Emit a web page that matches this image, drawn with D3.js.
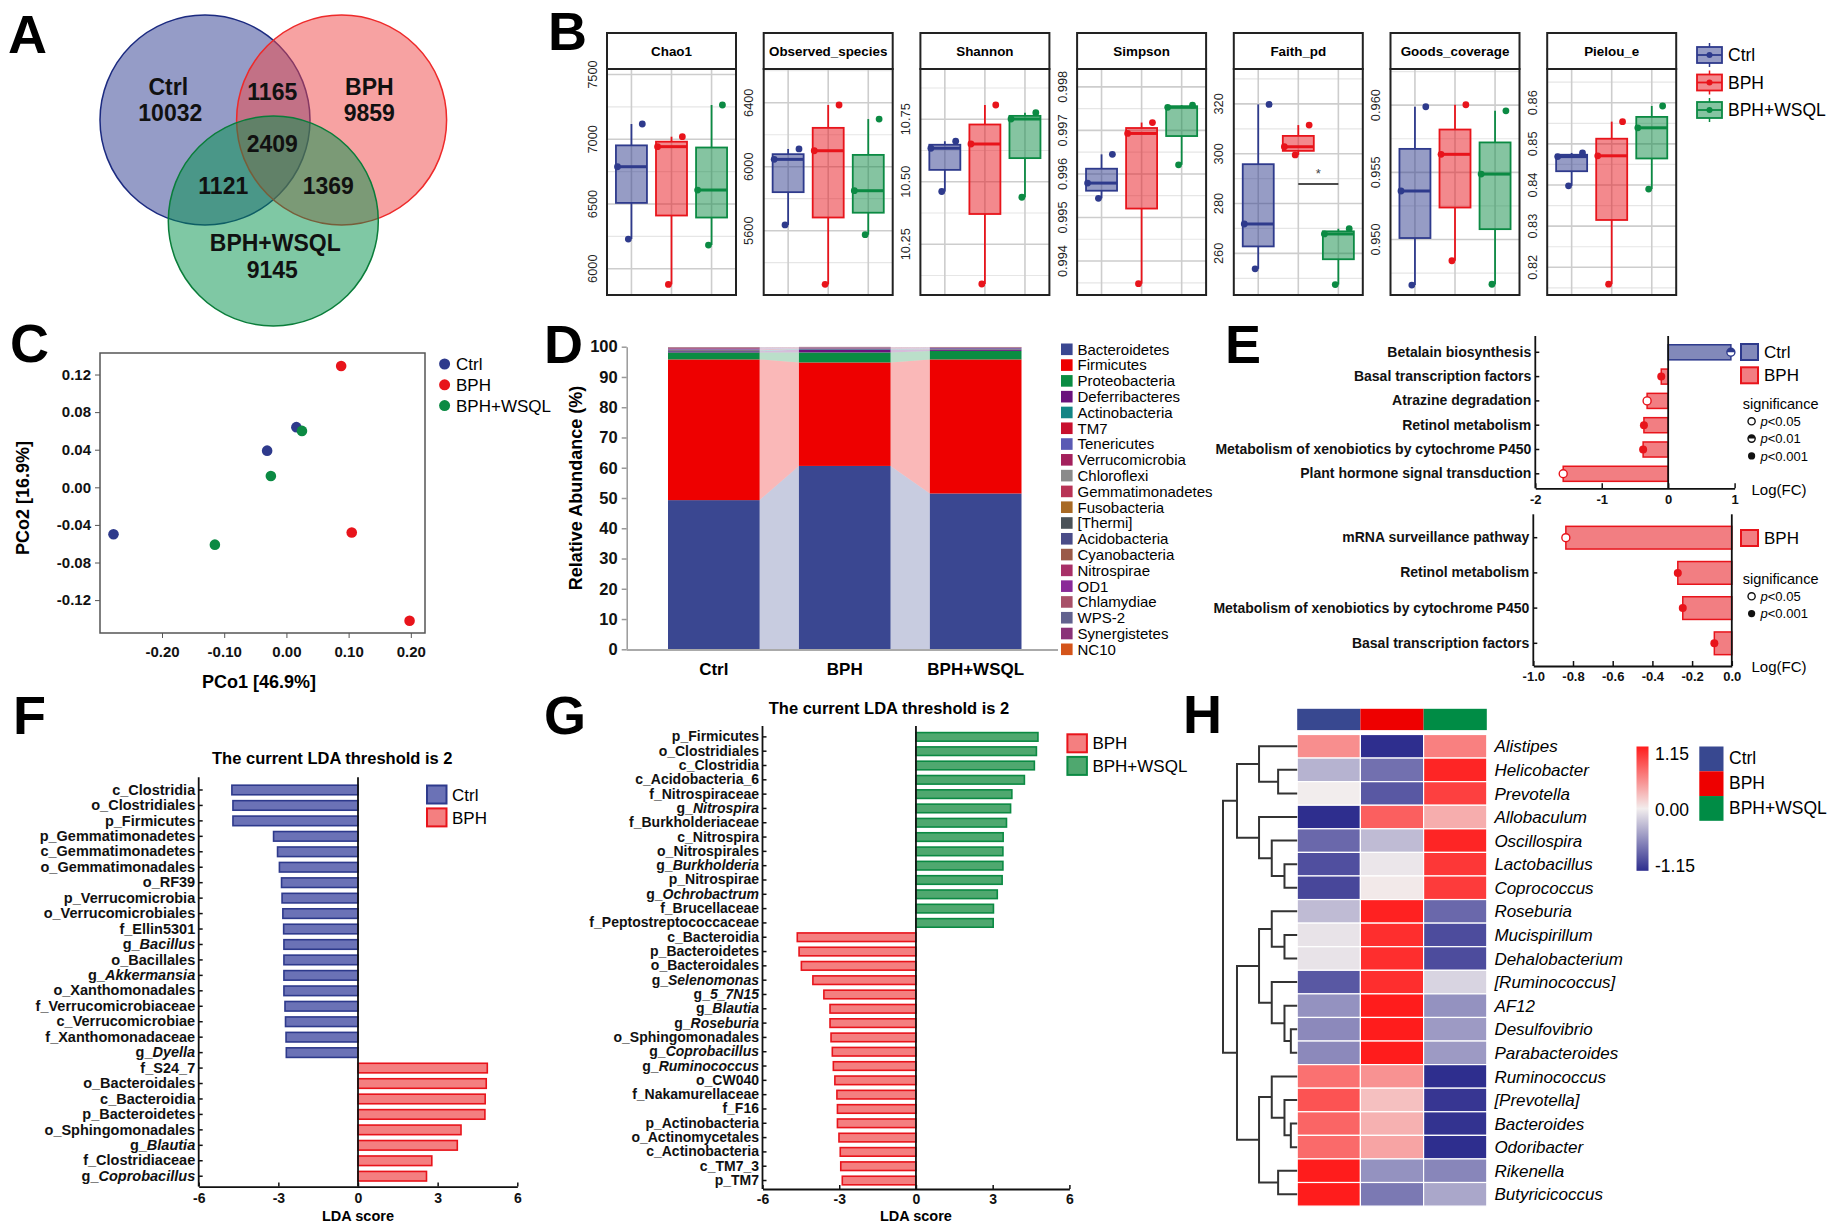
<!DOCTYPE html>
<html>
<head>
<meta charset="utf-8">
<script src="https://cdn.jsdelivr.net/npm/d3@7"></script>
<style>
  body { margin: 0; background: #fff; }
  svg { display: block; }
</style>
</head>
<body>
<div id="chart"></div>
<script>
// =====================================
// DATA
// =====================================

const groups = ["Ctrl", "BPH", "BPH+WSQL"];

// A - Venn (OTU counts)
const vennUnique = [10032, 9859, 9145];
const vennPairs = [1165, 1121, 1369];   // Ctrl&BPH, Ctrl&WSQL, BPH&WSQL
const vennAll = 2409;

// B - alpha diversity, three samples per group
const alphaMetrics = ["Chao1", "Observed_species", "Shannon", "Simpson", "Faith_pd", "Goods_coverage", "Pielou_e"];
const chao1 = [[7118, 6788, 6229], [7020, 6943, 5879], [7265, 6608, 6183]];
const observedSpecies = [[6111, 6046, 5636], [6386, 6100, 5265], [6298, 5850, 5575]];
const shannon = [[10.662, 10.634, 10.461], [10.807, 10.651, 10.091], [10.776, 10.751, 10.438]];
const simpson = [[0.99645, 0.99579, 0.99544], [0.99718, 0.99693, 0.99348], [0.99758, 0.99753, 0.99621]];
const faithPd = [[319.8, 271.8, 253.8], [311.5, 302.8, 299.5], [269.9, 267.8, 247.5]];
const goodsCoverage = [[0.95988, 0.95361, 0.94661], [0.96003, 0.95634, 0.94842], [0.95958, 0.95487, 0.94667]];
const pielouE = [[0.8478, 0.8469, 0.8398], [0.8554, 0.8471, 0.8159], [0.8592, 0.8539, 0.8390]];
const alphaValues = [chao1, observedSpecies, shannon, simpson, faithPd, goodsCoverage, pielouE];
const alphaDomains = [[5797, 7543], [5198, 6611], [10.047, 10.951], [0.99322, 0.99841], [243.3, 334.0], [0.94587, 0.96269], [0.81327, 0.86819]];
const alphaTicks = [
  [6000, 6500, 7000, 7500],
  [5600, 6000, 6400],
  [10.25, 10.50, 10.75],
  [0.994, 0.995, 0.996, 0.997, 0.998],
  [260, 280, 300, 320],
  [0.950, 0.955, 0.960],
  [0.82, 0.83, 0.84, 0.85, 0.86]
];
const alphaDecimals = [0, 0, 2, 3, 0, 3, 2];
const faithSignif = { from: "BPH", to: "BPH+WSQL", value: 287.8, label: "*" };

// C - PCoA
const pcoCtrl = [[-0.278, -0.050], [-0.031, 0.039], [0.016, 0.064]];
const pcoBph = [[0.088, 0.129], [0.105, -0.048], [0.198, -0.142]];
const pcoWsql = [[0.025, 0.060], [-0.025, 0.012], [-0.115, -0.061]];
const pcoXTicks = [-0.20, -0.10, 0.00, 0.10, 0.20];
const pcoYTicks = [-0.12, -0.08, -0.04, 0.00, 0.04, 0.08, 0.12];

// D - phylum relative abundance (%)
const phyla = ["Bacteroidetes", "Firmicutes", "Proteobacteria", "Deferribacteres", "Actinobacteria", "TM7",
  "Tenericutes", "Verrucomicrobia", "Chloroflexi", "Gemmatimonadetes", "Fusobacteria", "[Thermi]",
  "Acidobacteria", "Cyanobacteria", "Nitrospirae", "OD1", "Chlamydiae", "WPS-2", "Synergistetes", "NC10"];
const phylumCtrl = [49.3, 46.5, 2.3, 0.4, 0.3, 0.25, 0.3, 0.2, 0.05, 0.1, 0.02, 0.02, 0.05, 0.02, 0.02, 0.01, 0.01, 0.01, 0.01, 0.01];
const phylumBph = [60.6, 34.2, 3.3, 1.0, 0.2, 0.15, 0.2, 0.05, 0.03, 0.05, 0.02, 0.02, 0.03, 0.02, 0.02, 0.01, 0.01, 0.01, 0.01, 0.01];
const phylumWsql = [51.5, 44.3, 2.8, 0.3, 0.2, 0.1, 0.3, 0.1, 0.04, 0.08, 0.02, 0.02, 0.05, 0.02, 0.03, 0.01, 0.01, 0.01, 0.01, 0.01];
const abundanceTicks = d3.range(0, 101, 10);

// E - KEGG pathways, Log(FC)
const keggTopPaths = ["Betalain biosynthesis", "Basal transcription factors", "Atrazine degradation",
  "Retinol metabolism", "Metabolism of xenobiotics by cytochrome P450", "Plant hormone signal transduction"];
const keggTopFC = [0.944, -0.104, -0.317, -0.365, -0.377, -1.58];
const keggTopSig = ["p<0.01", "p<0.001", "p<0.05", "p<0.001", "p<0.001", "p<0.05"];
const keggBottomPaths = ["mRNA surveillance pathway", "Retinol metabolism",
  "Metabolism of xenobiotics by cytochrome P450", "Basal transcription factors"];
const keggBottomFC = [-0.836, -0.272, -0.247, -0.088];
const keggBottomSig = ["p<0.05", "p<0.001", "p<0.001", "p<0.001"];
const keggTopTicks = [-2, -1, 0, 1];
const keggBottomTicks = [-1.0, -0.8, -0.6, -0.4, -0.2, 0.0];

// F - LEfSe Ctrl vs BPH
const ldaFLabels = ["c_Clostridia", "o_Clostridiales", "p_Firmicutes", "p_Gemmatimonadetes", "c_Gemmatimonadetes",
  "o_Gemmatimonadales", "o_RF39", "p_Verrucomicrobia", "o_Verrucomicrobiales", "f_Ellin5301", "g_Bacillus",
  "o_Bacillales", "g_Akkermansia", "o_Xanthomonadales", "f_Verrucomicrobiaceae", "c_Verrucomicrobiae",
  "f_Xanthomonadaceae", "g_Dyella", "f_S24_7", "o_Bacteroidales", "c_Bacteroidia", "p_Bacteroidetes",
  "o_Sphingomonadales", "g_Blautia", "f_Clostridiaceae", "g_Coprobacillus"];
const ldaFScores = [-4.75, -4.71, -4.71, -3.18, -3.03, -2.96, -2.88, -2.86, -2.83, -2.80, -2.79, -2.79, -2.79,
  -2.79, -2.75, -2.73, -2.71, -2.70, 4.87, 4.83, 4.79, 4.78, 3.88, 3.74, 2.78, 2.58];

// G - LEfSe BPH vs BPH+WSQL
const ldaGLabels = ["p_Firmicutes", "o_Clostridiales", "c_Clostridia", "c_Acidobacteria_6", "f_Nitrospiraceae",
  "g_Nitrospira", "f_Burkholderiaceae", "c_Nitrospira", "o_Nitrospirales", "g_Burkholderia", "p_Nitrospirae",
  "g_Ochrobactrum", "f_Brucellaceae", "f_Peptostreptococcaceae", "c_Bacteroidia", "p_Bacteroidetes",
  "o_Bacteroidales", "g_Selenomonas", "g_5_7N15", "g_Blautia", "g_Roseburia", "o_Sphingomonadales",
  "g_Coprobacillus", "g_Ruminococcus", "o_CW040", "f_Nakamurellaceae", "f_F16", "p_Actinobacteria",
  "o_Actinomycetales", "c_Actinobacteria", "c_TM7_3", "p_TM7"];
const ldaGScores = [4.77, 4.71, 4.63, 4.24, 3.75, 3.70, 3.54, 3.41, 3.40, 3.40, 3.37, 3.18, 3.03, 3.02,
  -4.64, -4.57, -4.48, -4.03, -3.60, -3.36, -3.36, -3.32, -3.27, -3.23, -3.17, -3.09, -3.07, -3.07,
  -3.01, -2.96, -2.94, -2.88];
const ldaTicks = [-6, -3, 0, 3, 6];

// H - genus heatmap (row z-scores)
const genera = ["Alistipes", "Helicobacter", "Prevotella", "Allobaculum", "Oscillospira", "Lactobacillus",
  "Coprococcus", "Roseburia", "Mucispirillum", "Dehalobacterium", "[Ruminococcus]", "AF12", "Desulfovibrio",
  "Parabacteroides", "Ruminococcus", "[Prevotella]", "Bacteroides", "Odoribacter", "Rikenella", "Butyricicoccus"];
const heatCtrl = [0.52, -0.35, 0.0, -1.15, -0.8, -0.95, -1.0, -0.3, -0.06, -0.06, -0.9, -0.55, -0.6, -0.6, 0.68, 0.85, 0.75, 0.72, 1.15, 1.15];
const heatBph = [-1.15, -0.75, -0.9, 0.78, -0.3, -0.04, 0.02, 1.12, 1.05, 1.05, 1.05, 1.15, 1.15, 1.15, 0.5, 0.25, 0.33, 0.4, -0.55, -0.7];
const heatWsql = [0.6, 1.1, 0.95, 0.35, 1.1, 1.0, 0.98, -0.8, -0.97, -0.97, -0.15, -0.55, -0.5, -0.5, -1.15, -1.1, -1.12, -1.15, -0.62, -0.42];
const heatRange = [-1.15, 0, 1.15];
// row dendrogram, merge heights in arbitrary distance units
const genusTree = { h: 175, children: [
  { h: 142, children: [
    { h: 90, children: [{ leaf: "Alistipes" }, { h: 45, children: [{ leaf: "Helicobacter" }, { leaf: "Prevotella" }] }] },
    { h: 90, children: [{ leaf: "Allobaculum" }, { h: 60, children: [{ leaf: "Oscillospira" },
      { h: 30, children: [{ leaf: "Lactobacillus" }, { leaf: "Coprococcus" }] }] }] }
  ] },
  { h: 142, children: [
    { h: 90, children: [
      { h: 60, children: [{ leaf: "Roseburia" }, { h: 30, children: [{ leaf: "Mucispirillum" }, { leaf: "Dehalobacterium" }] }] },
      { h: 60, children: [{ leaf: "[Ruminococcus]" }, { h: 30, children: [{ leaf: "AF12" },
        { h: 15, children: [{ leaf: "Desulfovibrio" }, { leaf: "Parabacteroides" }] }] }] }
    ] },
    { h: 90, children: [
      { h: 60, children: [{ leaf: "Ruminococcus" }, { h: 30, children: [{ leaf: "[Prevotella]" },
        { h: 15, children: [{ leaf: "Bacteroides" }, { leaf: "Odoribacter" }] }] }] },
      { h: 45, children: [{ leaf: "Rikenella" }, { leaf: "Butyricicoccus" }] }
    ] }
  ] }
] };

// =====================================
// STYLE
// =====================================

const W = 1835, H = 1227;
const FONT = 'Arial, "Liberation Sans", Helvetica, sans-serif';
const groupColor = { "Ctrl": "#2e3a8c", "BPH": "#e8141b", "BPH+WSQL": "#0b8a43" };
const ldaFill = { "Ctrl": "#6b72b6", "BPH": "#f47f80", "BPH+WSQL": "#4fa86f" };
const barColor = { "Ctrl": "#384890", "BPH": "#ee0000", "BPH+WSQL": "#008c45" };
const phylumColors = ["#3a4791", "#ee0000", "#0a8c42", "#6a127c", "#138585", "#c8102e", "#5a5ab4", "#a3205c",
  "#8a8a8a", "#b83355", "#a86a25", "#4a5258", "#4a4c88", "#9a5a48", "#a83068", "#8a2a98", "#a85068",
  "#62628f", "#8a3278", "#d4541a"];

const svg = d3.select("#chart")
  .append("svg")
  .attr("width", W)
  .attr("height", H)
  .attr("font-family", FONT);

svg.append("rect").attr("width", W).attr("height", H).attr("fill", "#fff");

// panel letters
[["A", 8, 53], ["B", 548, 50], ["C", 10, 362], ["D", 544, 363],
 ["E", 1225, 363], ["F", 13, 734], ["G", 544, 734], ["H", 1183, 733]].forEach(([t, x, y]) => {
  svg.append("text").attr("x", x).attr("y", y)
    .attr("font-size", 54).attr("font-weight", "bold").text(t);
});

function taxonLabel(sel, name) {
  const m = name.match(/^g_(.+)$/);
  sel.text(null);
  if (m) {
    sel.append("tspan").text("g_");
    sel.append("tspan").attr("font-style", "italic").text(m[1]);
  } else {
    sel.text(name);
  }
}

// =====================================
// A - VENN
// =====================================

const venn = svg.append("g");
const vr = 105, vcx = 273.3, vcy = 120, vdx = 68.3, vdy = 101;
const vennCenters = [[vcx - vdx, vcy], [vcx + vdx, vcy], [vcx, vcy + vdy]];
const vennFill = ["#2b3990", "#f04545", "#00924a"];
const vennStroke = ["#1b2a80", "#ee2a2a", "#0a7d3a"];

venn.selectAll("circle")
  .data(groups)
  .join("circle")
  .attr("cx", (d, i) => vennCenters[i][0])
  .attr("cy", (d, i) => vennCenters[i][1])
  .attr("r", vr)
  .attr("fill", (d, i) => vennFill[i])
  .attr("fill-opacity", 0.5)
  .attr("stroke", (d, i) => vennStroke[i])
  .attr("stroke-width", 1.5);

const vennText = [
  [groups[0], vcx - 105, vcy - 33], [vennUnique[0], vcx - 103, vcy - 7],
  [groups[1], vcx + 96, vcy - 33], [vennUnique[1], vcx + 96, vcy - 7],
  [groups[2], vcx + 2, vcy + 123], [vennUnique[2], vcx - 1, vcy + 150],
  [vennPairs[0], vcx - 1, vcy - 28], [vennAll, vcx - 1, vcy + 24],
  [vennPairs[1], vcx - 50, vcy + 66], [vennPairs[2], vcx + 55, vcy + 66]
];
venn.selectAll("text")
  .data(vennText)
  .join("text")
  .attr("x", d => d[1])
  .attr("y", d => d[2])
  .attr("dy", "0.36em")
  .attr("text-anchor", "middle")
  .attr("font-size", 23)
  .attr("font-weight", "bold")
  .attr("fill", "#111")
  .text(d => d[0]);

// =====================================
// B - ALPHA DIVERSITY BOXPLOTS
// =====================================

const bStripTop = 33, bPlotTop = 69, bPlotBot = 295;
const bLeft = 607, bStep = 156.7, bWidth = 129, boxW = 31;
const jitter = [0.35, -0.45, -0.1];

alphaMetrics.forEach((metric, i) => {
  const g = svg.append("g").attr("transform", `translate(${bLeft + i * bStep},0)`);
  const dom = alphaDomains[i];
  const x = d3.scalePoint().domain(groups).range([0, bWidth]).padding(0.61);
  const y = d3.scaleLinear().domain(dom).range([bPlotBot, bPlotTop]);
  const major = alphaTicks[i];
  const half = (major[1] - major[0]) / 2;

  // grid
  const k = Math.floor((major[0] - dom[0]) / half + 1e-9);
  const grid = [];
  for (let j = -k; ; j++) {
    const v = major[0] + j * half;
    if (v > dom[1]) break;
    grid.push({ v, major: (j % 2 === 0) });
  }
  g.selectAll(".grid")
    .data(grid)
    .join("line")
    .attr("x1", 0).attr("x2", bWidth)
    .attr("y1", d => y(d.v)).attr("y2", d => y(d.v))
    .attr("stroke", d => d.major ? "#cdcdcd" : "#e6e6e6")
    .attr("stroke-width", d => d.major ? 1.6 : 1.2);
  g.selectAll(".vgrid")
    .data(groups)
    .join("line")
    .attr("x1", d => x(d)).attr("x2", d => x(d))
    .attr("y1", bPlotTop).attr("y2", bPlotBot)
    .attr("stroke", "#cdcdcd")
    .attr("stroke-width", 1.6);

  // boxes
  groups.forEach((gr, j) => {
    const vals = alphaValues[i][j].slice().sort(d3.ascending);
    const q1 = d3.quantile(vals, 0.25), med = d3.quantile(vals, 0.5), q3 = d3.quantile(vals, 0.75);
    const cx = x(gr), col = groupColor[gr];
    g.append("line").attr("x1", cx).attr("x2", cx).attr("y1", y(vals[0])).attr("y2", y(q1))
      .attr("stroke", col).attr("stroke-width", 1.8);
    g.append("line").attr("x1", cx).attr("x2", cx).attr("y1", y(q3)).attr("y2", y(vals[vals.length - 1]))
      .attr("stroke", col).attr("stroke-width", 1.8);
    g.append("rect")
      .attr("x", cx - boxW / 2).attr("width", boxW)
      .attr("y", y(q3)).attr("height", y(q1) - y(q3))
      .attr("fill", col).attr("fill-opacity", 0.5)
      .attr("stroke", col).attr("stroke-width", 1.8);
    g.append("line").attr("x1", cx - boxW / 2).attr("x2", cx + boxW / 2)
      .attr("y1", y(med)).attr("y2", y(med))
      .attr("stroke", col).attr("stroke-width", 3);
    g.selectAll(null)
      .data(alphaValues[i][j])
      .join("circle")
      .attr("cx", (d, n) => cx + jitter[n] * boxW)
      .attr("cy", d => y(d))
      .attr("r", 3.4)
      .attr("fill", col);
  });

  // significance bracket
  if (metric === "Faith_pd") {
    g.append("line")
      .attr("x1", x(faithSignif.from)).attr("x2", x(faithSignif.to))
      .attr("y1", y(faithSignif.value)).attr("y2", y(faithSignif.value))
      .attr("stroke", "#111").attr("stroke-width", 1.5);
    g.append("text")
      .attr("x", (x(faithSignif.from) + x(faithSignif.to)) / 2)
      .attr("y", y(faithSignif.value) - 6)
      .attr("text-anchor", "middle")
      .attr("font-size", 13).attr("fill", "#444")
      .text(faithSignif.label);
  }

  // frame + strip
  g.append("rect").attr("x", 0).attr("y", bPlotTop).attr("width", bWidth).attr("height", bPlotBot - bPlotTop)
    .attr("fill", "none").attr("stroke", "#222").attr("stroke-width", 2);
  g.append("rect").attr("x", 0).attr("y", bStripTop).attr("width", bWidth).attr("height", bPlotTop - bStripTop)
    .attr("fill", "#fff").attr("stroke", "#222").attr("stroke-width", 2);
  g.append("text")
    .attr("x", bWidth / 2).attr("y", (bStripTop + bPlotTop) / 2).attr("dy", "0.36em")
    .attr("text-anchor", "middle").attr("font-size", 13.4).attr("font-weight", "bold")
    .text(metric);

  // y tick labels (rotated)
  g.selectAll(".ytick")
    .data(major)
    .join("text")
    .attr("transform", d => `translate(-15,${y(d)}) rotate(-90)`)
    .attr("dy", "0.36em")
    .attr("text-anchor", "middle")
    .attr("font-size", 12.8)
    .attr("fill", "#222")
    .text(d => d.toFixed(alphaDecimals[i]));
});

// B legend
const bLeg = svg.append("g").attr("transform", "translate(1697,0)");
groups.forEach((gr, j) => {
  const cy = 55 + j * 27.5, col = groupColor[gr];
  bLeg.append("line").attr("x1", 12.5).attr("x2", 12.5).attr("y1", cy - 12).attr("y2", cy + 12)
    .attr("stroke", col).attr("stroke-width", 1.5);
  bLeg.append("rect").attr("x", 0).attr("y", cy - 8).attr("width", 25).attr("height", 16)
    .attr("fill", "#fff");
  bLeg.append("rect").attr("x", 0).attr("y", cy - 8).attr("width", 25).attr("height", 16)
    .attr("fill", col).attr("fill-opacity", 0.5).attr("stroke", col).attr("stroke-width", 1.8);
  bLeg.append("line").attr("x1", 0).attr("x2", 25).attr("y1", cy).attr("y2", cy)
    .attr("stroke", col).attr("stroke-width", 1.8);
  bLeg.append("circle").attr("cx", 12.5).attr("cy", cy).attr("r", 3).attr("fill", col);
  bLeg.append("text").attr("x", 31).attr("y", cy).attr("dy", "0.36em")
    .attr("font-size", 17.5).text(gr);
});

// =====================================
// C - PCoA
// =====================================

const cG = svg.append("g");
const cx = d3.scaleLinear().domain([-0.2997, 0.2228]).range([100, 425]);
const cy = d3.scaleLinear().domain([-0.155, 0.1429]).range([633, 353]);

cG.append("g")
  .attr("transform", "translate(0,633)")
  .call(d3.axisBottom(cx).tickValues(pcoXTicks).tickFormat(d => d.toFixed(2)).tickSize(5).tickPadding(8))
  .call(a => a.select(".domain").remove())
  .call(a => a.selectAll("line").attr("stroke", "#555"))
  .call(a => a.selectAll("text").attr("font-family", FONT).attr("font-size", 15).attr("font-weight", "bold").attr("fill", "#111"));

cG.append("g")
  .attr("transform", "translate(100,0)")
  .call(d3.axisLeft(cy).tickValues(pcoYTicks).tickFormat(d => d.toFixed(2)).tickSize(5).tickPadding(4))
  .call(a => a.select(".domain").remove())
  .call(a => a.selectAll("line").attr("stroke", "#555"))
  .call(a => a.selectAll("text").attr("font-family", FONT).attr("font-size", 15).attr("font-weight", "bold").attr("fill", "#111"));

cG.append("rect").attr("x", 100).attr("y", 353).attr("width", 325).attr("height", 280)
  .attr("fill", "none").attr("stroke", "#555").attr("stroke-width", 1.5);

[pcoCtrl, pcoBph, pcoWsql].forEach((pts, j) => {
  cG.selectAll(null)
    .data(pts)
    .join("circle")
    .attr("cx", d => cx(d[0]))
    .attr("cy", d => cy(d[1]))
    .attr("r", 5.3)
    .attr("fill", groupColor[groups[j]]);
});

cG.append("text").attr("x", 259).attr("y", 682).attr("dy", "0.36em").attr("text-anchor", "middle")
  .attr("font-size", 18).attr("font-weight", "bold").text("PCo1 [46.9%]");
cG.append("text").attr("transform", "translate(23,498) rotate(-90)").attr("dy", "0.36em")
  .attr("text-anchor", "middle").attr("font-size", 18).attr("font-weight", "bold").text("PCo2 [16.9%]");

groups.forEach((gr, j) => {
  const ly = 364 + j * 20.8;
  cG.append("circle").attr("cx", 444.6).attr("cy", ly).attr("r", 5.5).attr("fill", groupColor[gr]);
  cG.append("text").attr("x", 456).attr("y", ly).attr("dy", "0.36em").attr("font-size", 17).text(gr);
});

// =====================================
// D - STACKED PHYLUM BARS
// =====================================

const dG = svg.append("g");
const phylumTable = groups.map((gr, j) => {
  const row = { group: gr };
  const vals = [phylumCtrl, phylumBph, phylumWsql][j];
  phyla.forEach((p, k) => { row[p] = vals[k]; });
  return row;
});
const layers = d3.stack().keys(phyla)(phylumTable);

const dx = d3.scaleBand().domain(groups).range([668, 1021.5]).paddingInner(0.3);
const dy = d3.scaleLinear().domain([0, 100]).range([649.3, 346.7]);
const dColor = d3.scaleOrdinal().domain(phyla).range(phylumColors);

// flows between bars
layers.forEach(layer => {
  for (let i = 0; i < groups.length - 1; i++) {
    const a = layer[i], b = layer[i + 1];
    const xa = dx(groups[i]) + dx.bandwidth(), xb = dx(groups[i + 1]);
    dG.append("path")
      .attr("d", `M${xa},${dy(a[1])}L${xb},${dy(b[1])}L${xb},${dy(b[0])}L${xa},${dy(a[0])}Z`)
      .attr("fill", dColor(layer.key))
      .attr("fill-opacity", 0.28);
  }
});

dG.selectAll(".layer")
  .data(layers)
  .join("g")
  .attr("fill", d => dColor(d.key))
  .selectAll("rect")
  .data(d => d)
  .join("rect")
  .attr("x", d => dx(d.data.group))
  .attr("width", dx.bandwidth())
  .attr("y", d => dy(d[1]))
  .attr("height", d => dy(d[0]) - dy(d[1]));

dG.append("g")
  .attr("transform", "translate(626.7,0)")
  .call(d3.axisLeft(dy).tickValues(abundanceTicks).tickSize(5).tickPadding(4).tickSizeOuter(0))
  .call(a => a.select(".domain").attr("stroke", "#999").attr("stroke-width", 1.5))
  .call(a => a.selectAll("line").attr("stroke", "#999").attr("stroke-width", 1.5))
  .call(a => a.selectAll("text").attr("font-family", FONT).attr("font-size", 16.5).attr("font-weight", "bold").attr("fill", "#111"));

dG.append("line").attr("x1", 626.7).attr("x2", 1058).attr("y1", 650).attr("y2", 650)
  .attr("stroke", "#aaa").attr("stroke-width", 2);

dG.selectAll(".xlab")
  .data(groups)
  .join("text")
  .attr("x", d => dx(d) + dx.bandwidth() / 2)
  .attr("y", 669).attr("dy", "0.36em")
  .attr("text-anchor", "middle")
  .attr("font-size", 17).attr("font-weight", "bold")
  .text(d => d);

dG.append("text").attr("transform", "translate(576,488) rotate(-90)").attr("dy", "0.36em")
  .attr("text-anchor", "middle").attr("font-size", 18).attr("font-weight", "bold")
  .text("Relative Abundance (%)");

const dLeg = dG.append("g").attr("transform", "translate(1061,0)");
phyla.forEach((p, k) => {
  const ly = 349.3 + k * 15.79;
  dLeg.append("rect").attr("x", 0).attr("y", ly - 5.8).attr("width", 11.6).attr("height", 11.6).attr("fill", dColor(p));
  dLeg.append("text").attr("x", 16.5).attr("y", ly).attr("dy", "0.36em").attr("font-size", 15).text(p);
});

// =====================================
// E - KEGG LOG(FC)
// =====================================

function sigMarker(g, x, y, r, sig, col) {
  if (sig === "p<0.001") {
    g.append("circle").attr("cx", x).attr("cy", y).attr("r", r).attr("fill", col);
  } else {
    g.append("circle").attr("cx", x).attr("cy", y).attr("r", r).attr("fill", "#fff")
      .attr("stroke", col).attr("stroke-width", 1.4);
    if (sig === "p<0.01") {
      g.append("path").attr("d", `M${x - r},${y}A${r},${r} 0 0 1 ${x + r},${y}Z`).attr("fill", col);
    }
  }
}

function drawKegg(cfg) {
  const g = svg.append("g");
  const x = d3.scaleLinear().domain(cfg.domain).range(cfg.xRange);
  const y = d3.scaleBand().domain(cfg.paths).range(cfg.yRange).paddingInner(cfg.padIn).paddingOuter(cfg.padOut);
  const barGroup = v => v > 0 ? "Ctrl" : "BPH";

  g.selectAll(".bar")
    .data(cfg.fc)
    .join("rect")
    .attr("x", d => x(Math.min(0, d)))
    .attr("width", d => Math.abs(x(d) - x(0)))
    .attr("y", (d, i) => y(cfg.paths[i]))
    .attr("height", y.bandwidth())
    .attr("fill", d => groupColor[barGroup(d)])
    .attr("fill-opacity", d => d > 0 ? 0.6 : 0.55)
    .attr("stroke", d => groupColor[barGroup(d)])
    .attr("stroke-width", 1.5);

  cfg.fc.forEach((v, i) => {
    sigMarker(g, x(v), y(cfg.paths[i]) + y.bandwidth() / 2, 4, cfg.sig[i], groupColor[barGroup(v)]);
  });

  // zero line and left axis line
  g.append("line").attr("x1", x(0)).attr("x2", x(0)).attr("y1", cfg.top).attr("y2", cfg.bottom)
    .attr("stroke", "#111").attr("stroke-width", 1.8);
  g.append("line").attr("x1", cfg.xRange[0]).attr("x2", cfg.xRange[0]).attr("y1", cfg.top).attr("y2", cfg.bottom)
    .attr("stroke", "#111").attr("stroke-width", 1.8);

  g.append("g")
    .attr("transform", `translate(${cfg.xRange[0]},0)`)
    .call(d3.axisLeft(y).tickSizeInner(-4).tickSizeOuter(0).tickPadding(4))
    .call(a => a.select(".domain").remove())
    .call(a => a.selectAll("line").attr("stroke", "#111").attr("stroke-width", 1.5))
    .call(a => a.selectAll("text").attr("font-family", FONT).attr("font-size", 14).attr("font-weight", "bold").attr("fill", "#111"));

  g.append("g")
    .attr("transform", `translate(0,${cfg.bottom})`)
    .call(d3.axisBottom(x).tickValues(cfg.ticks).tickFormat(cfg.format).tickSizeInner(-5).tickSizeOuter(0).tickPadding(6))
    .call(a => a.select(".domain").attr("stroke", "#111").attr("stroke-width", 1.8))
    .call(a => a.selectAll("line").attr("stroke", "#111").attr("stroke-width", 1.5))
    .call(a => a.selectAll("text").attr("font-family", FONT).attr("font-size", 13).attr("font-weight", "bold").attr("fill", "#111"));

  g.append("text").attr("x", 1779).attr("y", cfg.bottom + 1).attr("dy", "0.36em").attr("text-anchor", "middle")
    .attr("font-size", 15).text("Log(FC)");

  // legend
  cfg.legend.forEach((gr, j) => {
    const ly = cfg.legendY + j * 23.3;
    g.append("rect").attr("x", 1741).attr("y", ly - 8).attr("width", 17).attr("height", 16)
      .attr("fill", groupColor[gr]).attr("fill-opacity", gr === "Ctrl" ? 0.6 : 0.55)
      .attr("stroke", groupColor[gr]).attr("stroke-width", 2);
    g.append("text").attr("x", 1764).attr("y", ly).attr("dy", "0.36em").attr("font-size", 17).text(gr);
  });
  g.append("text").attr("x", 1742.7).attr("y", cfg.sigY).attr("dy", "0.36em").attr("font-size", 14.5).text("significance");
  cfg.sigLevels.forEach((s, j) => {
    const ly = cfg.sigY + 18 + j * 17.3;
    sigMarker(g, 1751.6, ly, 3.6, s, "#111");
    const t = g.append("text").attr("x", 1760.5).attr("y", ly).attr("dy", "0.36em").attr("font-size", 13);
    t.append("tspan").attr("font-style", "italic").text("p");
    t.append("tspan").text(s.slice(1));
  });
}

drawKegg({
  paths: keggTopPaths, fc: keggTopFC, sig: keggTopSig,
  domain: [-2, 1], xRange: [1535.3, 1734.6],
  yRange: [340.15, 485.95], padIn: 0.38, padOut: 0.19,
  top: 336, bottom: 488.3,
  ticks: keggTopTicks, format: d => String(d),
  legend: ["Ctrl", "BPH"], legendY: 352,
  sigY: 403.3, sigLevels: ["p<0.05", "p<0.01", "p<0.001"]
});

drawKegg({
  paths: keggBottomPaths, fc: keggBottomFC, sig: keggBottomSig,
  domain: [-1, 0], xRange: [1533.3, 1731.8],
  yRange: [520, 661], padIn: 0.355, padOut: 0.18,
  top: 514.3, bottom: 666,
  ticks: keggBottomTicks, format: d => d.toFixed(1),
  legend: ["BPH"], legendY: 538,
  sigY: 578.3, sigLevels: ["p<0.05", "p<0.001"]
});

// =====================================
// F, G - LEfSe LDA SCORES
// =====================================

function drawLda(cfg) {
  const g = svg.append("g");
  const x = d3.scaleLinear().domain([-6, 6]).range(cfg.xRange);
  const y = d3.scaleBand().domain(cfg.labels).range(cfg.yRange).paddingInner(cfg.padIn).paddingOuter(cfg.padOut);
  const gOf = v => v < 0 ? cfg.neg : cfg.pos;

  g.append("text").attr("x", cfg.titleX).attr("y", cfg.titleY).attr("dy", "0.36em").attr("text-anchor", "middle")
    .attr("font-size", 16.5).attr("font-weight", "bold").text("The current LDA threshold is 2");

  g.selectAll(".bar")
    .data(cfg.scores)
    .join("rect")
    .attr("x", d => x(Math.min(0, d)))
    .attr("width", d => Math.abs(x(d) - x(0)))
    .attr("y", (d, i) => y(cfg.labels[i]))
    .attr("height", y.bandwidth())
    .attr("fill", d => ldaFill[gOf(d)])
    .attr("stroke", d => groupColor[gOf(d)])
    .attr("stroke-width", 1.6);

  g.append("line").attr("x1", x(0)).attr("x2", x(0)).attr("y1", cfg.top).attr("y2", cfg.bottom)
    .attr("stroke", "#111").attr("stroke-width", 1.8);
  g.append("line").attr("x1", cfg.xRange[0]).attr("x2", cfg.xRange[0]).attr("y1", cfg.top).attr("y2", cfg.bottom)
    .attr("stroke", "#111").attr("stroke-width", 1.8);

  g.append("g")
    .attr("transform", `translate(${cfg.xRange[0]},0)`)
    .call(d3.axisLeft(y).tickSizeInner(-4).tickSizeOuter(0).tickPadding(3.5))
    .call(a => a.select(".domain").remove())
    .call(a => a.selectAll("line").attr("stroke", "#111").attr("stroke-width", 1.5))
    .call(a => a.selectAll("text").attr("font-family", FONT).attr("font-size", cfg.labelSize)
      .attr("font-weight", "bold").attr("fill", "#111")
      .each(function(d) { taxonLabel(d3.select(this), d); }));

  g.append("g")
    .attr("transform", `translate(0,${cfg.bottom})`)
    .call(d3.axisBottom(x).tickValues(ldaTicks).tickFormat(d => String(d)).tickSizeInner(-4).tickSizeOuter(0).tickPadding(cfg.tickPad))
    .call(a => a.select(".domain").attr("stroke", "#111").attr("stroke-width", 1.8))
    .call(a => a.selectAll("line").attr("stroke", "#111").attr("stroke-width", 1.5))
    .call(a => a.selectAll("text").attr("font-family", FONT).attr("font-size", 14).attr("font-weight", "bold").attr("fill", "#111"));

  g.append("text").attr("x", x(0)).attr("y", cfg.scoreY).attr("dy", "0.36em").attr("text-anchor", "middle")
    .attr("font-size", 14.5).attr("font-weight", "bold").text("LDA score");

  cfg.legend.forEach((gr, j) => {
    const ly = cfg.legendY + j * cfg.legendStep;
    g.append("rect").attr("x", cfg.legendX).attr("y", ly - 9).attr("width", 19.5).attr("height", 18)
      .attr("fill", ldaFill[gr]).attr("stroke", groupColor[gr]).attr("stroke-width", 2);
    g.append("text").attr("x", cfg.legendX + 25).attr("y", ly).attr("dy", "0.36em").attr("font-size", 17).text(gr);
  });
}

drawLda({
  labels: ldaFLabels, scores: ldaFScores, neg: "Ctrl", pos: "BPH",
  xRange: [198.7, 517.3], yRange: [777.3, 1188.9], padIn: 0.38, padOut: 0.511,
  top: 777.3, bottom: 1186.6, labelSize: 14.5, tickPad: 6.5, scoreY: 1215.5,
  titleX: 332.3, titleY: 757.8,
  legend: ["Ctrl", "BPH"], legendX: 427, legendY: 794.5, legendStep: 22.9
});

drawLda({
  labels: ldaGLabels, scores: ldaGScores, neg: "BPH", pos: "BPH+WSQL",
  xRange: [762.5, 1069.4], yRange: [726, 1191.4], padIn: 0.40, padOut: 0.46,
  top: 726, bottom: 1189, labelSize: 14, tickPad: 5, scoreY: 1216,
  titleX: 889, titleY: 708.5,
  legend: ["BPH", "BPH+WSQL"], legendX: 1067.4, legendY: 743.3, legendStep: 22.6
});

// =====================================
// H - HEATMAP WITH DENDROGRAM
// =====================================

const hG = svg.append("g");
const hx = d3.scaleBand().domain(groups).range([1297.2, 1486.8]);
const hy = d3.scaleBand().domain(genera).range([734.5, 1206.1]);
const heatColor = d3.scaleLinear().domain(heatRange).range(["#2e2e8e", "#f2eded", "#ff1c1c"]);
const heatCols = [heatCtrl, heatBph, heatWsql];

hG.selectAll(".grp")
  .data(groups)
  .join("rect")
  .attr("x", d => hx(d))
  .attr("width", hx.bandwidth())
  .attr("y", 708.8)
  .attr("height", 21.3)
  .attr("fill", d => barColor[d]);

genera.forEach((gen, r) => {
  groups.forEach((gr, c) => {
    hG.append("rect")
      .attr("x", hx(gr)).attr("width", hx.bandwidth())
      .attr("y", hy(gen)).attr("height", hy.bandwidth())
      .attr("fill", heatColor(heatCols[c][r]))
      .attr("stroke", "#fff").attr("stroke-width", 1.2);
  });
});

hG.selectAll(".rowlab")
  .data(genera)
  .join("text")
  .attr("x", 1494.4)
  .attr("y", d => hy(d) + hy.bandwidth() / 2)
  .attr("dy", "0.36em")
  .attr("font-size", 17)
  .attr("font-style", "italic")
  .text(d => d);

// dendrogram
const tree = d3.hierarchy(genusTree);
const dendroX = d3.scaleLinear().domain([0, genusTree.h]).range([1297.2, 1223]);
tree.eachAfter(n => {
  if (n.children) {
    n.py = (n.children[0].py + n.children[n.children.length - 1].py) / 2;
    n.ph = n.data.h;
  } else {
    n.py = hy(n.data.leaf) + hy.bandwidth() / 2;
    n.ph = 0;
  }
});
tree.descendants().filter(n => n.children).forEach(n => {
  const [a, b] = n.children;
  hG.append("path")
    .attr("d", `M${dendroX(a.ph)},${a.py}H${dendroX(n.ph)}V${b.py}H${dendroX(b.ph)}`)
    .attr("fill", "none")
    .attr("stroke", "#333")
    .attr("stroke-width", 2);
});

// colour bar legend
const grad = svg.append("defs").append("linearGradient")
  .attr("id", "heatGrad").attr("x1", 0).attr("x2", 0).attr("y1", 1).attr("y2", 0);
d3.range(0, 1.0001, 0.1).forEach(t => {
  grad.append("stop").attr("offset", t).attr("stop-color", heatColor(heatRange[0] + t * (heatRange[2] - heatRange[0])));
});
hG.append("rect").attr("x", 1636.5).attr("y", 746.5).attr("width", 12).attr("height", 124.3).attr("fill", "url(#heatGrad)");
const legY = d3.scaleLinear().domain([heatRange[0], heatRange[2]]).range([865.3, 753.4]);
hG.selectAll(".clab")
  .data(heatRange)
  .join("text")
  .attr("x", 1655)
  .attr("y", d => legY(d))
  .attr("dy", "0.36em")
  .attr("font-size", 17.5)
  .text(d => d.toFixed(2));

groups.forEach((gr, j) => {
  const y0 = 746.5 + j * 24.77;
  hG.append("rect").attr("x", 1699.3).attr("y", y0).attr("width", 24.2).attr("height", 24.77)
    .attr("fill", barColor[gr]);
  hG.append("text").attr("x", 1729).attr("y", y0 + 11.5).attr("dy", "0.36em").attr("font-size", 17.5).text(gr);
});
</script>
</body>
</html>
